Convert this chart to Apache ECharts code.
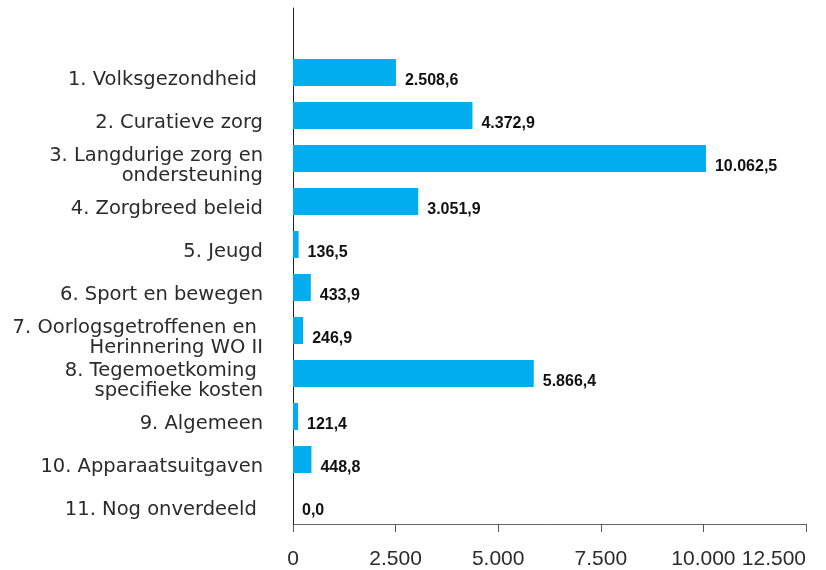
<!DOCTYPE html>
<html>
<head>
<meta charset="utf-8">
<title>Uitgaven per artikel</title>
<script src="https://cdn.jsdelivr.net/npm/echarts@6/dist/echarts.min.js"></script>
<style>
    html, body { margin: 0; padding: 0; background: #fff; }
</style>
</head>
<body>
<div style="width: 826px;height:570px;" id="uitgavenChart"></div>
<script>
    // categorieen (artikelen), van boven naar beneden
    var categories = [
        '1. Volksgezondheid ',
        '2. Curatieve zorg',
        '3. Langdurige zorg en\nondersteuning',
        '4. Zorgbreed beleid',
        '5. Jeugd',
        '6. Sport en bewegen',
        '7. Oorlogsgetroffenen en \nHerinnering WO II',
        '8. Tegemoetkoming \nspecifieke kosten',
        '9. Algemeen',
        '10. Apparaatsuitgaven',
        '11. Nog onverdeeld '
    ];
    // bedragen (x mln euro)
    var values = [2508.6, 4372.9, 10062.5, 3051.9, 136.5, 433.9, 246.9, 5866.4, 121.4, 448.8, 0.0];
    // x-as
    var xTicks = [0, 2500, 5000, 7500, 10000, 12500];

    // nederlandse notatie: 10.062,5
    function fmt(v, dec) {
        var parts = v.toFixed(dec).split('.');
        var s = parts[0].replace(/\B(?=(\d{3})+(?!\d))/g, '.');
        return parts.length > 1 ? s + ',' + parts[1] : s;
    }

    var chart = echarts.init(document.getElementById('uitgavenChart'));

    var option = {
        animation: false,
        grid: {
            left: 293,
            right: 20,
            top: 8,
            bottom: 46
        },
        xAxis: {
            type: 'value',
            min: xTicks[0],
            max: xTicks[xTicks.length - 1],
            interval: xTicks[1] - xTicks[0],
            axisLine: { show: true, lineStyle: { color: '#666', width: 1 } },
            axisTick: { show: true, length: 8, lineStyle: { color: '#555' } },
            splitLine: { show: false },
            axisLabel: {
                margin: 25,
                fontSize: 21,
                fontFamily: 'Liberation Sans',
                color: '#2b2b2b',
                alignMaxLabel: 'right',
                formatter: function (v) { return fmt(v, 0); }
            }
        },
        yAxis: {
            type: 'category',
            inverse: true,
            // lege plek bovenaan, de as loopt door tot boven
            data: [''].concat(categories),
            axisLine: { show: true, lineStyle: { color: '#222', width: 1 } },
            axisTick: { show: false },
            axisLabel: {
                margin: 30,
                // lege regel bovenaan schuift de tekst iets omlaag
                formatter: function (v) {
                    if (!v) return '';
                    return '{s| }\n' + v.split('\n').map(function (l) {
                        return '{t|' + l + '}';
                    }).join('\n');
                },
                rich: {
                    s: { fontSize: 1, lineHeight: 14 },
                    t: {
                        fontSize: 19.5,
                        lineHeight: 20,
                        fontFamily: 'DejaVu Sans',
                        color: '#2b2b2b'
                    }
                }
            }
        },
        series: [{
            name: 'Uitgaven',
            type: 'bar',
            barWidth: 27,
            data: [null].concat(values),
            itemStyle: { color: '#00aeef' },
            label: {
                show: true,
                position: 'right',
                distance: 9,
                offset: [0, 8],
                fontSize: 16,
                fontWeight: 'bold',
                fontFamily: 'Liberation Sans',
                color: '#111',
                formatter: function (p) { return fmt(p.value, 1); }
            }
        }]
    };
    chart.setOption(option);
    window.addEventListener('resize', function () {
        chart.resize();
    });
</script>
</body>
</html>
